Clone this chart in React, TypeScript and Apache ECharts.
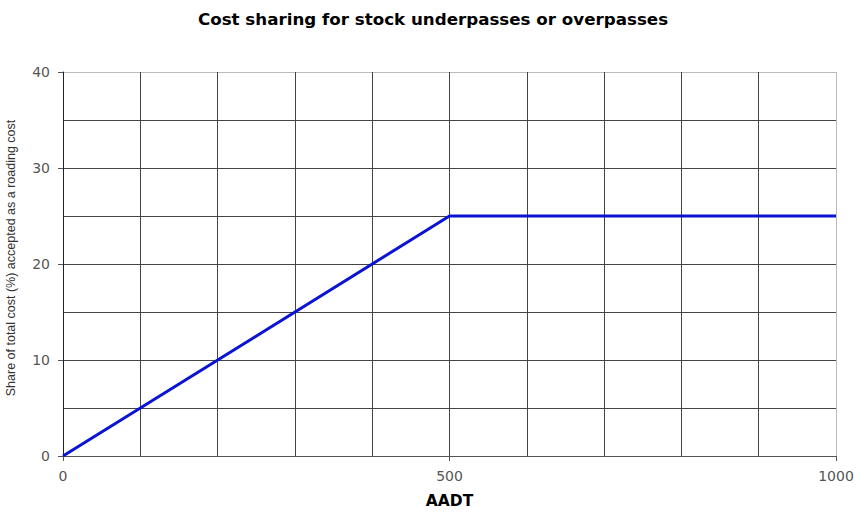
import React, { useEffect, useRef } from "react";
import * as echarts from "echarts";

const titleText = "Cost sharing for stock underpasses or overpasses";
const xName = "AADT";
const yName = "Share of total cost (%) accepted as a roading cost";
const aadt = [0, 500, 1000];
const share = [0, 25, 25];

export default function App() {
  const ref = useRef<HTMLDivElement>(null);
  useEffect(() => {
    if (!ref.current) return;
    const chart = echarts.init(ref.current, undefined, { renderer: "svg" });
    chart.setOption({
      animation: false,
      backgroundColor: "#ffffff",
      title: {
        text: titleText,
        left: 428,
        textAlign: "center",
        top: 5,
        textStyle: { fontFamily: "DejaVu Sans", fontWeight: "bold", fontSize: 16.7, color: "#000" },
      },
      grid: { left: 63, right: 21, top: 72, bottom: 57, containLabel: false, outerBoundsMode: "none" },
      xAxis: {
        type: "value",
        min: 0,
        max: 1000,
        interval: 500,
        name: xName,
        nameLocation: "middle",
        nameGap: 37,
        nameTextStyle: { fontFamily: "DejaVu Sans", fontWeight: "bold", fontSize: 15.5, color: "#000" },
        axisLine: { show: true, lineStyle: { color: "#555", width: 1 } },
        axisTick: { show: true, length: 5, lineStyle: { color: "#555" } },
        axisLabel: {
          fontFamily: "DejaVu Sans",
          fontSize: 14,
          color: "#555",
          margin: 13,
          formatter: (v: number) => String(v),
        },
        splitLine: { show: true, lineStyle: { color: ["#444", "#444", "#bbb"], width: 1 } },
        minorTick: { show: false, splitNumber: 5 },
        minorSplitLine: { show: true, lineStyle: { color: "#444", width: 1 } },
      },
      yAxis: {
        type: "value",
        min: 0,
        max: 40,
        interval: 10,
        name: yName,
        nameLocation: "middle",
        nameGap: 46,
        nameTextStyle: { fontFamily: "Liberation Sans", fontSize: 12.5, color: "#333", padding: [0, 0, 0, 12] },
        axisLine: { show: true, lineStyle: { color: "#222", width: 1 } },
        axisTick: { show: true, length: 5, lineStyle: { color: "#555" } },
        axisLabel: { fontFamily: "DejaVu Sans", fontSize: 14, color: "#555", margin: 13 },
        splitLine: { show: true, lineStyle: { color: ["#444", "#444", "#444", "#444", "#bbb"], width: 1 } },
        minorTick: { show: false, splitNumber: 2 },
        minorSplitLine: { show: true, lineStyle: { color: "#444", width: 1 } },
      },
      series: [
        {
          type: "line",
          data: aadt.map((x, i) => [x, share[i]]),
          showSymbol: false,
          symbol: "none",
          lineStyle: { color: "#0a14d2", width: 3 },
          z: 5,
        },
      ],
    });
    return () => chart.dispose();
  }, []);
  return <div ref={ref} style={{ position: "absolute", left: 0, top: 0, width: 857, height: 513 }} />;
}
